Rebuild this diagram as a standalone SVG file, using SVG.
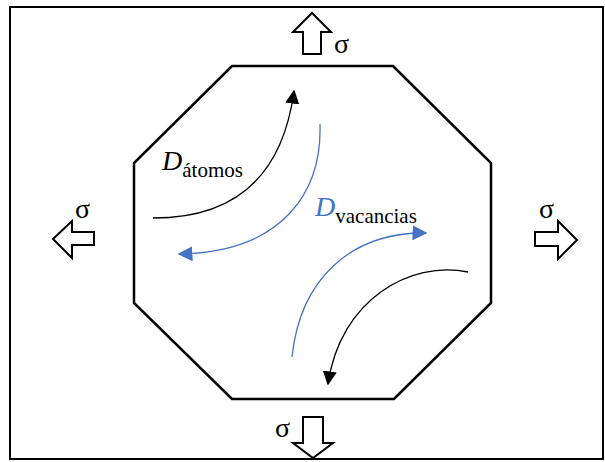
<svg xmlns="http://www.w3.org/2000/svg" width="605" height="462" viewBox="0 0 605 462">
<defs>
<style>
.frame{fill:#fff;stroke:#000;stroke-width:2}
.oct{fill:none;stroke:#000;stroke-width:2.5;stroke-linejoin:miter}
.bigarrow{fill:#fff;stroke:#000;stroke-width:2;stroke-linejoin:miter}
.sig{font-size:28px;fill:#000}
.lbl{font-size:21px;fill:#000}
.D{font-style:italic;font-size:28px}
.blk{fill:none;stroke:#000;stroke-width:1.3}
.blu{fill:none;stroke:#4472c4;stroke-width:1.3}
</style>
<marker id="ab" viewBox="0 0 10 10" refX="9" refY="5" markerWidth="14" markerHeight="14" markerUnits="userSpaceOnUse" orient="auto"><path d="M0,0 L10,5 L0,10 z" fill="#000"/></marker>
<marker id="au" viewBox="0 0 10 10" refX="9" refY="5" markerWidth="15" markerHeight="15" markerUnits="userSpaceOnUse" orient="auto"><path d="M0,0 L10,5 L0,10 z" fill="#4472c4"/></marker>
</defs>
<rect class="frame" x="10" y="7" width="593" height="452"/>
<g id="grain">
<polygon class="oct" points="232,66 393,66 491,163 491,303 394,399 232,399 134,303 134,163"/>
</g>
<g font-family="'Times New Roman', 'Liberation Serif', serif">
<g id="stress-top">
<polygon class="bigarrow" points="312,13 331,32 321,32 321,54 303,54 303,32 293,32"/>
<text class="sig" x="334" y="53">σ</text>
</g>
<g id="stress-bottom">
<polygon class="bigarrow" points="303,417 323,417 323,443 333,443 313,458 293,443 303,443"/>
<text class="sig" x="275" y="437">σ</text>
</g>
<g id="stress-left">
<polygon class="bigarrow" points="53,239 72,221 72,232 94,232 94,245 72,245 72,258"/>
<text class="sig" x="75" y="218">σ</text>
</g>
<g id="stress-right">
<polygon class="bigarrow" points="535,232 558,232 558,221 577,240 558,259 558,246 535,246"/>
<text class="sig" x="539" y="218">σ</text>
</g>
<g id="label-atomos">
<text class="lbl" x="162" y="170"><tspan class="D">D</tspan><tspan dy="7">átomos</tspan></text>
</g>
<g id="label-vacancias">
<text class="lbl" x="315" y="216"><tspan class="D" fill="#4472c4">D</tspan><tspan dy="7">vacancias</tspan></text>
</g>
</g>
<g id="connectors">
<path class="blk" d="M153,218 Q277,218 294,91" marker-end="url(#ab)"/>
<path class="blu" d="M320,124 C322,190 285,252 179,254" marker-end="url(#au)"/>
<path class="blk" d="M468,272 C410,260 340,300 328,384" marker-end="url(#ab)"/>
<path class="blu" d="M292,357 C300,280 350,232 426,233" marker-end="url(#au)"/>
</g>
</svg>
